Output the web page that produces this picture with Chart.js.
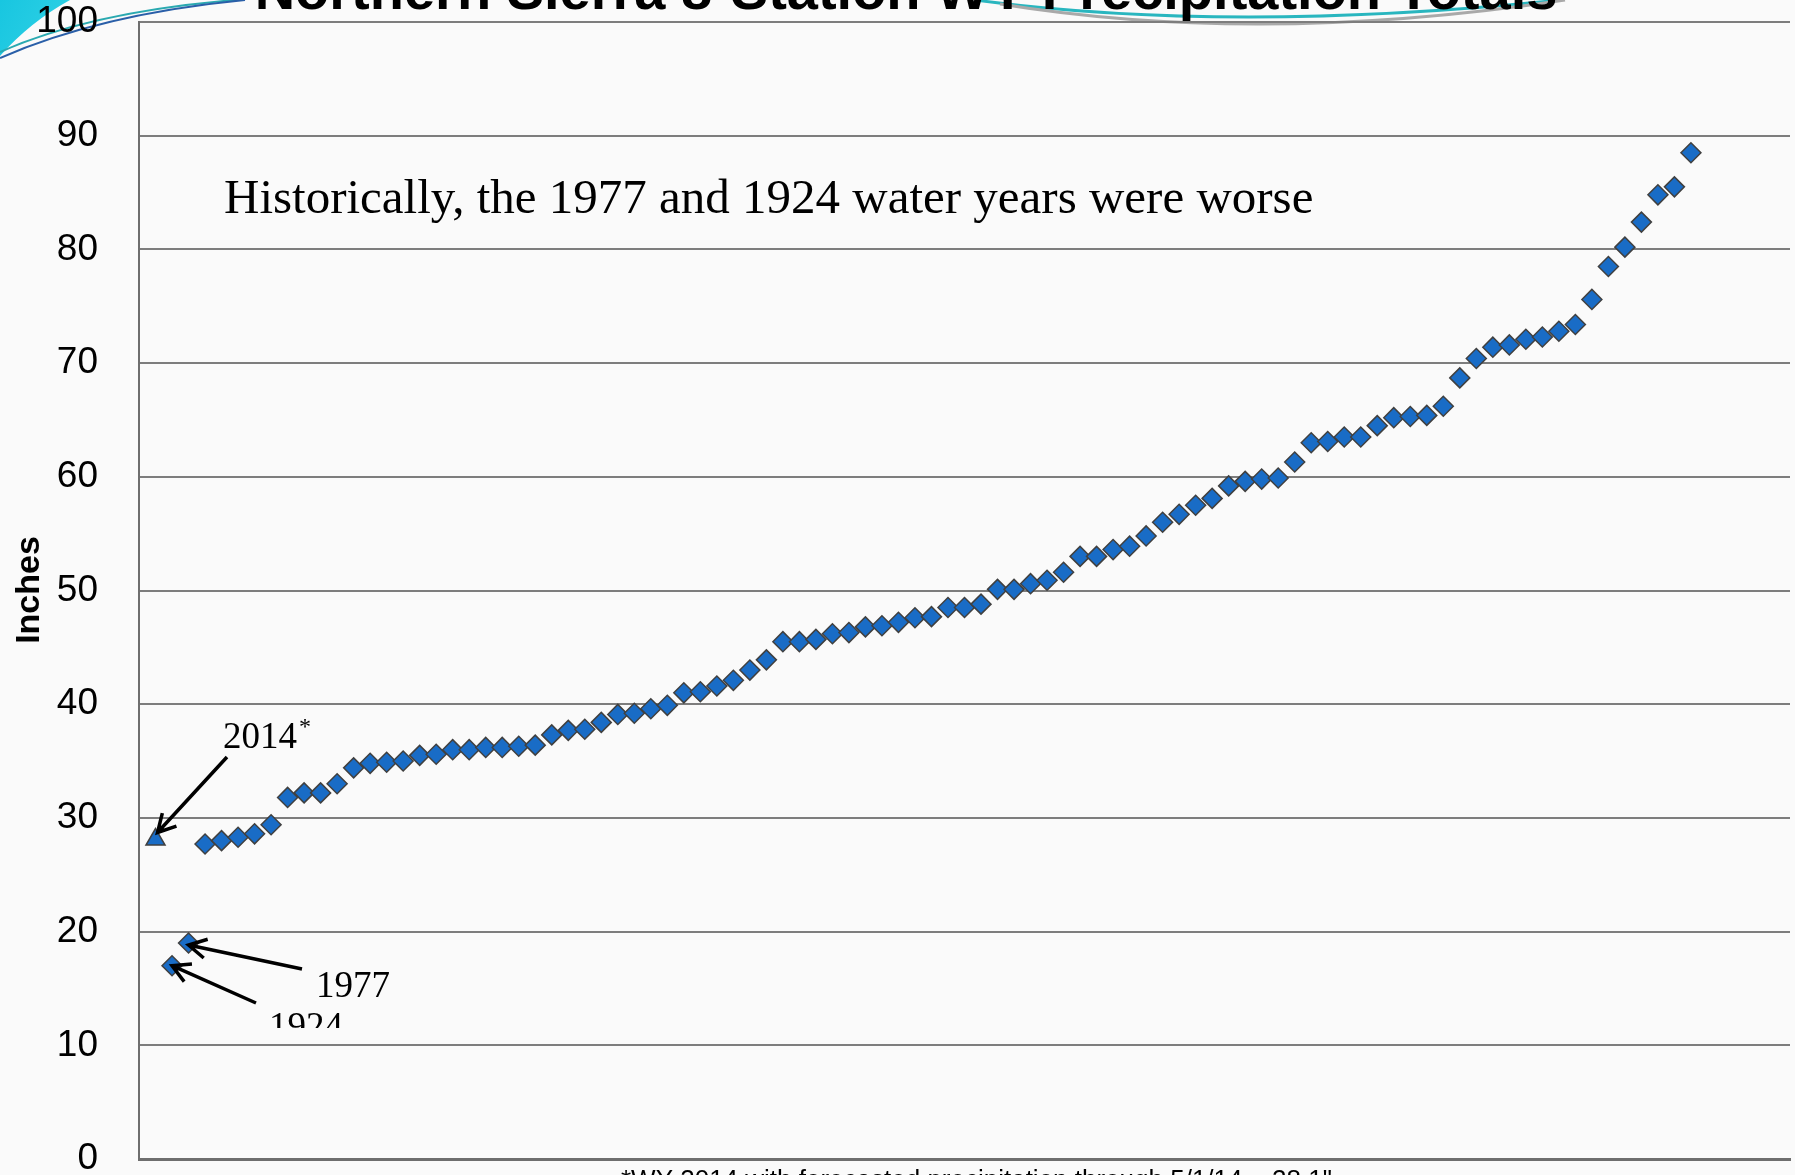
<!DOCTYPE html>
<html>
<head>
<meta charset="utf-8">
<script src="https://cdn.jsdelivr.net/npm/chart.js@4.4.0/dist/chart.umd.min.js"></script>
<style>
html, body { margin: 0; padding: 0; background: #fafafa; }
#wrap { width: 1795px; height: 1175px; position: relative; }
</style>
</head>
<body>
<div id="wrap"><canvas id="precipChart" width="1795" height="1175"></canvas></div>
<script>
"use strict";

// WY 2014 (forecast through 5/1/14), plotted first at rank 1
var wy2014Rank = 1;
var wy2014Total = 28.1;

// all other water years, ranked driest to wettest (inches), ranks 2..94
var rankedTotals = [17.0, 19.0, 27.7, 28.0, 28.3, 28.6, 29.4, 31.8, 32.2, 32.2,
	33.0, 34.4, 34.8, 34.9, 35.0, 35.5, 35.6, 36.0, 36.0, 36.2,
	36.2, 36.3, 36.4, 37.3, 37.7, 37.8, 38.4, 39.1, 39.2, 39.6,
	39.9, 41.0, 41.1, 41.6, 42.1, 43.0, 43.9, 45.5, 45.5, 45.7,
	46.2, 46.3, 46.8, 46.9, 47.2, 47.6, 47.7, 48.5, 48.5, 48.8,
	50.1, 50.1, 50.6, 50.9, 51.6, 53.0, 53.0, 53.6, 53.9, 54.8,
	56.0, 56.7, 57.5, 58.1, 59.2, 59.6, 59.8, 59.9, 61.3, 63.0,
	63.1, 63.5, 63.5, 64.5, 65.2, 65.3, 65.4, 66.2, 68.7, 70.4,
	71.4, 71.6, 72.1, 72.3, 72.8, 73.4, 75.6, 78.5, 80.2, 82.4,
	84.8, 85.5, 88.5];
var firstRank = 2;

// y axis ticks
var yMin = 0, yMax = 100, yStep = 10;
var xMin = 0, xMax = 100;

var titleText = "Northern Sierra 8-Station WY Precipitation Totals";
var noteText = "Historically, the 1977 and 1924 water years were worse";
var footText = "*WY 2014 with forecasted precipitation through 5/1/14 = 28.1\"";

var markerBlue = "#196cc6";
var markerEdge = "#404040";

function arrow(ctx, x0, y0, x1, y1) {
	var ang = Math.atan2(y1 - y0, x1 - x0);
	var head = 20;
	ctx.beginPath();
	ctx.moveTo(x0, y0);
	ctx.lineTo(x1, y1);
	ctx.moveTo(x1 - head * Math.cos(ang - 0.5), y1 - head * Math.sin(ang - 0.5));
	ctx.lineTo(x1, y1);
	ctx.lineTo(x1 - head * Math.cos(ang + 0.5), y1 - head * Math.sin(ang + 0.5));
	ctx.stroke();
}

var decor = {
	id: "decor",
	beforeDraw: function (chart) {
		var ctx = chart.ctx;
		ctx.save();
		ctx.fillStyle = "#fafafa";
		ctx.fillRect(0, 0, chart.width, chart.height);

		// theme swoosh, top left
		var g = ctx.createLinearGradient(0, 0, 90, 45);
		g.addColorStop(0, "#18c6e0");
		g.addColorStop(1, "#35d3e6");
		ctx.fillStyle = g;
		ctx.beginPath();
		ctx.moveTo(0, 0);
		ctx.lineTo(70, 0);
		ctx.quadraticCurveTo(30, 22, 0, 56);
		ctx.closePath();
		ctx.fill();
		ctx.lineWidth = 2;
		ctx.strokeStyle = "#2aa9b0";
		ctx.beginPath();
		ctx.moveTo(0, 52);
		ctx.quadraticCurveTo(90, 12, 235, 0);
		ctx.stroke();
		ctx.strokeStyle = "#2a5fa8";
		ctx.beginPath();
		ctx.moveTo(0, 58);
		ctx.quadraticCurveTo(100, 14, 245, 0);
		ctx.stroke();

		// swoosh behind the title
		ctx.lineWidth = 3;
		ctx.strokeStyle = "#29b6bf";
		ctx.beginPath();
		ctx.moveTo(975, 0);
		ctx.quadraticCurveTo(1230, 34, 1560, 0);
		ctx.stroke();
		ctx.strokeStyle = "#a9a9a9";
		ctx.beginPath();
		ctx.moveTo(1000, 4);
		ctx.quadraticCurveTo(1260, 46, 1565, 0);
		ctx.stroke();
		ctx.restore();
	},
	afterDraw: function (chart) {
		var ctx = chart.ctx;
		var xs = chart.scales.x, ys = chart.scales.y;
		ctx.save();

		// title, mostly above the visible slide area
		ctx.fillStyle = "#000";
		ctx.font = "bold 56px 'Liberation Sans', Arial, sans-serif";
		ctx.textAlign = "center";
		ctx.textBaseline = "alphabetic";
		ctx.fillText(titleText, 906, 9);

		// y axis title
		ctx.save();
		ctx.translate(30, 590);
		ctx.rotate(-Math.PI / 2);
		ctx.font = "bold 34px 'Liberation Sans', Arial, sans-serif";
		ctx.textBaseline = "middle";
		ctx.fillText("Inches", 0, 0);
		ctx.restore();

		// note
		ctx.textAlign = "left";
		ctx.font = "49px 'Liberation Serif', 'Times New Roman', serif";
		ctx.fillText(noteText, 224, 213);

		// labels and arrows
		ctx.font = "37px 'Liberation Serif', 'Times New Roman', serif";
		ctx.fillText("2014", 223, 748);
		var w = ctx.measureText("2014").width;
		ctx.font = "24px 'Liberation Serif', 'Times New Roman', serif";
		ctx.fillText("*", 223 + w + 2, 734);

		ctx.font = "37px 'Liberation Serif', 'Times New Roman', serif";
		ctx.fillText("1977", 316, 997);
		ctx.save();
		ctx.beginPath();
		ctx.rect(0, 0, chart.width, 1028);
		ctx.clip();
		ctx.fillText("1924", 269, 1038);
		ctx.restore();

		ctx.strokeStyle = "#000";
		ctx.lineWidth = 3.5;
		ctx.lineCap = "butt";
		var tx = xs.getPixelForValue(wy2014Rank), ty = ys.getPixelForValue(wy2014Total);
		arrow(ctx, 227, 757, tx + 2, ty - 7);
		var p77 = [xs.getPixelForValue(firstRank + 1), ys.getPixelForValue(rankedTotals[1])];
		arrow(ctx, 302, 969, p77[0], p77[1] + 2);
		var p24 = [xs.getPixelForValue(firstRank), ys.getPixelForValue(rankedTotals[0])];
		arrow(ctx, 256, 1003, p24[0], p24[1]);

		// footnote, cut by the bottom of the slide
		ctx.font = "26px 'Liberation Sans', Arial, sans-serif";
		ctx.textBaseline = "top";
		ctx.fillText(footText, 621, 1168);
		ctx.restore();
	}
};

var ctx = document.getElementById("precipChart");
var data = {
	datasets: [{
		label: "WY 2014",
		data: [{ x: wy2014Rank, y: wy2014Total }],
		pointStyle: "triangle",
		pointRadius: 11,
		backgroundColor: markerBlue,
		borderColor: markerEdge,
		borderWidth: 1.5
	}, {
		label: "Ranked water years",
		data: rankedTotals.map(function (v, i) { return { x: firstRank + i, y: v }; }),
		pointStyle: "rectRot",
		pointRadius: 10,
		backgroundColor: markerBlue,
		borderColor: markerEdge,
		borderWidth: 1.5
	}]
};
var config = {
	type: "scatter",
	data: data,
	options: {
		responsive: false,
		animation: false,
		layout: { autoPadding: false, padding: { top: 22, right: 5, bottom: 16, left: 0 } },
		plugins: {
			legend: { display: false },
			tooltip: { enabled: false }
		},
		scales: {
			x: {
				type: "linear",
				min: xMin,
				max: xMax,
				ticks: { display: false },
				grid: { display: false, drawTicks: false },
				border: { color: "#6e6e6e", width: 3 },
				afterFit: function (s) {
					s.height = 0;
					s.paddingLeft = 0;
					s.paddingRight = 0;
				}
			},
			y: {
				min: yMin,
				max: yMax,
				ticks: {
					stepSize: yStep,
					color: "#000",
					padding: 41,
					font: { family: "'Liberation Sans', Arial, sans-serif", size: 37 }
				},
				grid: { color: "#7d7d7d", lineWidth: 2, drawTicks: false },
				border: { color: "#6e6e6e", width: 2 },
				afterFit: function (s) {
					s.width = 139;
					s.paddingTop = 0;
					s.paddingBottom = 0;
				}
			}
		}
	},
	plugins: [decor]
};
var precipChart = new Chart(ctx, config);
</script>
</body>
</html>
